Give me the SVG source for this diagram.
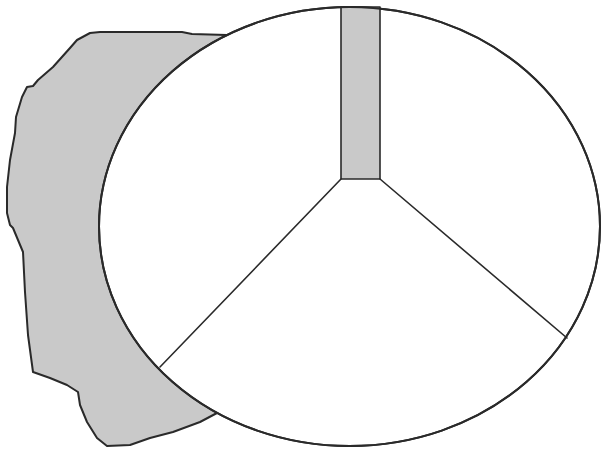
<svg xmlns="http://www.w3.org/2000/svg" width="602" height="450" viewBox="0 0 602 450">
<style>
.ln{stroke:#2a2a2a;stroke-width:2;stroke-linejoin:round;stroke-linecap:round}
.thin{stroke-width:1.6}
.gray{fill:#c9c9c9}
</style>
<rect width="602" height="450" fill="#ffffff"/>
<g id="backdrop">
<path class="ln gray" d="M 227,35 L 192,34 L 182,32 L 100,32 L 90,33 L 77,40 L 70,48 L 53,67 L 38,80 L 33,86 L 27,87 L 22,97 L 16,117 L 15,133 L 10,160 L 7,187 L 7,213 L 10,225 L 13,228 L 23,252 L 25,292 L 28,335 L 33,372 L 50,378 L 67,385 L 78,392 L 80,405 L 87,422 L 97,438 L 107,446 L 130,445 L 150,438 L 173,432 L 200,422 L 217,413 L 300,300 L 300,100 Z"/>
</g>
<g id="disc">
<ellipse class="ln" cx="349.5" cy="226.5" rx="250.5" ry="219.5" fill="#ffffff"/>
</g>
<g id="bar">
<rect class="ln thin gray" x="341" y="7" width="39" height="172"/>
</g>
<g id="spokes">
<line class="ln thin" x1="341" y1="179" x2="160" y2="367"/>
<line class="ln thin" x1="380" y1="179" x2="567" y2="338"/>
</g>
<ellipse cx="349.5" cy="226.5" rx="250.5" ry="219.5" fill="none" class="ln"/>
</svg>
